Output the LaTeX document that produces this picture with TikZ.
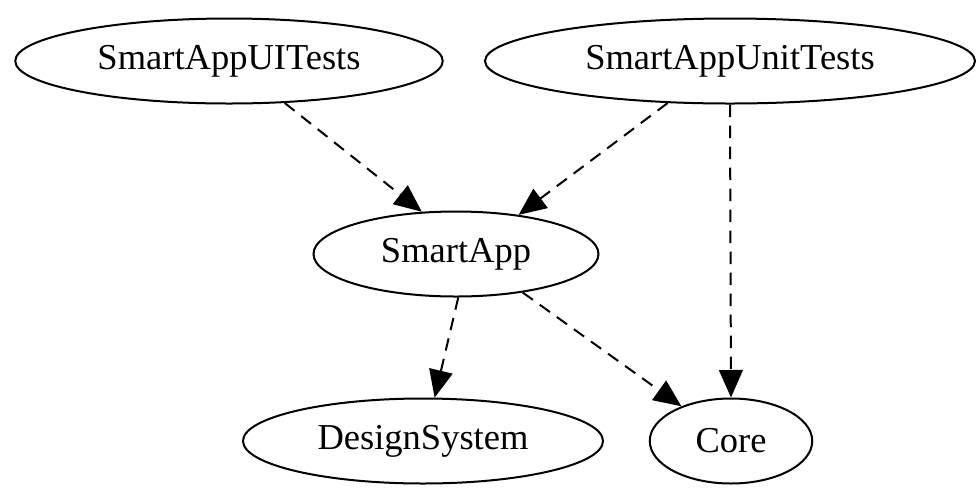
\documentclass[tikz,border=0pt]{standalone}
\usepackage{fontspec}
\setmainfont{Liberation Serif}
\usetikzlibrary{shapes.geometric,arrows.meta}

\begin{document}
\begin{tikzpicture}[x=0.4pt, y=-0.4pt, >={Triangle[length=11pt,width=9.5pt]},
    mod/.style={draw, ellipse, line width=0.8pt, inner sep=0pt, font=\fontsize{14.6}{17}\selectfont},
    dep/.style={->, dashed, line width=0.8pt, dash pattern=on 5pt off 3.4pt}]
    \useasboundingbox (0,0) rectangle (976,502);

    % Targets
    \node[mod, minimum width=171pt, minimum height=34pt] (uitests) at (229,61) {SmartAppUITests};
    \node[mod, minimum width=196pt, minimum height=34pt] (unittests) at (730,61) {SmartAppUnitTests};
    \node[mod, minimum width=114pt, minimum height=34pt] (app) at (456,254) {SmartApp};
    \node[mod, minimum width=144pt, minimum height=34pt] (design) at (423,441) {DesignSystem};
    \node[mod, minimum width=65pt, minimum height=34pt] (core) at (731,441) {Core};

    % Dependencies
    \draw[dep] (uitests.-37) -- (app.129);
    \draw[dep] (unittests.214) -- (app.32);
    \draw[dep] (unittests.south) -- (core.north);
    \draw[dep] (app.-87) -- (design.75);
    \draw[dep] (app.-30) -- (core.145);
\end{tikzpicture}
\end{document}
